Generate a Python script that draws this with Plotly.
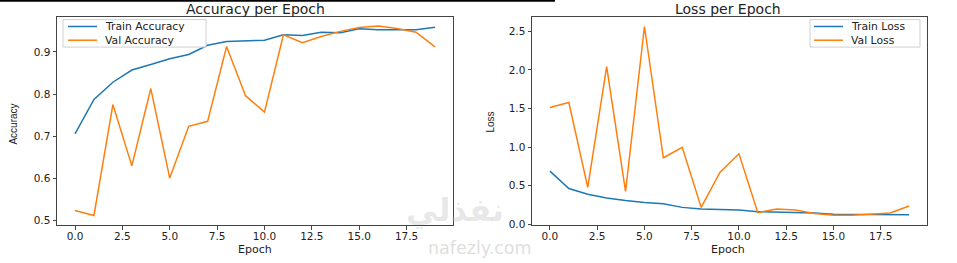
import plotly.graph_objects as go

epochs = list(range(20))
train_acc = [0.705, 0.787, 0.828, 0.857, 0.870, 0.884, 0.894, 0.916, 0.925, 0.927,
             0.928, 0.941, 0.939, 0.947, 0.946, 0.955, 0.953, 0.953, 0.953, 0.959]
val_acc = [0.523, 0.511, 0.775, 0.629, 0.813, 0.600, 0.723, 0.735, 0.913, 0.796,
           0.757, 0.941, 0.922, 0.937, 0.949, 0.958, 0.962, 0.956, 0.947, 0.912]
train_loss = [0.69, 0.465, 0.39, 0.343, 0.31, 0.283, 0.266, 0.22, 0.20, 0.19,
              0.186, 0.165, 0.16, 0.152, 0.148, 0.131, 0.131, 0.131, 0.127, 0.123]
val_loss = [1.514, 1.578, 0.478, 2.043, 0.427, 2.563, 0.863, 0.998, 0.22, 0.677,
            0.914, 0.152, 0.199, 0.186, 0.14, 0.118, 0.118, 0.131, 0.148, 0.237]
x_ticks = [0, 2.5, 5, 7.5, 10, 12.5, 15, 17.5]
acc_ticks = [0.5, 0.6, 0.7, 0.8, 0.9]
loss_ticks = [0.0, 0.5, 1.0, 1.5, 2.0, 2.5]

BLUE = "#1f77b4"
ORANGE = "#ff7f0e"
W, H = 957, 263
FONT = "DejaVu Sans"
TXT = "#222"


def px(x):
    return x / W


def py(y):
    return 1 - y / H


fig = go.Figure()
fig.add_trace(go.Scatter(x=epochs, y=train_acc, mode="lines", name="Train Accuracy",
                         line=dict(color=BLUE, width=1.5), xaxis="x", yaxis="y"))
fig.add_trace(go.Scatter(x=epochs, y=val_acc, mode="lines", name="Val Accuracy",
                         line=dict(color=ORANGE, width=1.5), xaxis="x", yaxis="y"))
fig.add_trace(go.Scatter(x=epochs, y=train_loss, mode="lines", name="Train Loss",
                         line=dict(color=BLUE, width=1.5), xaxis="x2", yaxis="y2"))
fig.add_trace(go.Scatter(x=epochs, y=val_loss, mode="lines", name="Val Loss",
                         line=dict(color=ORANGE, width=1.5), xaxis="x2", yaxis="y2"))

ydom = [py(229.5), py(17)]
common = dict(showline=True, linecolor="#444", linewidth=1, mirror=True, showgrid=False,
              zeroline=False, ticks="outside", ticklen=3.5, tickcolor="#444",
              tickfont=dict(family=FONT, size=10.5, color=TXT))

fig.update_layout(
    width=W, height=H, margin=dict(l=0, r=0, t=0, b=0),
    paper_bgcolor="white", plot_bgcolor="white",
    font=dict(family=FONT, color=TXT),
    showlegend=False,
    xaxis=dict(domain=[px(57), px(453)], range=[-0.95, 19.95], tickvals=x_ticks,
               tickformat=".1f", anchor="y", ticklabelstandoff=-2, **common),
    yaxis=dict(domain=ydom, range=[0.488, 0.984], tickvals=acc_ticks, tickformat=".1f",
               anchor="x", **common),
    xaxis2=dict(domain=[px(532), px(927)], range=[-0.95, 19.95], tickvals=x_ticks,
                tickformat=".1f", anchor="y2", ticklabelstandoff=-2, **common),
    yaxis2=dict(domain=ydom, range=[-0.01, 2.69], tickvals=loss_ticks, tickformat=".1f",
                anchor="x2", **common),
)

NARROW = "Liberation Sans, Arial, sans-serif"
annots = [
    dict(text="Accuracy per Epoch", x=px(255), y=py(9), font=dict(size=14)),
    dict(text="Loss per Epoch", x=px(728), y=py(9), font=dict(size=14)),
    dict(text="Epoch", x=px(255), y=py(254), font=dict(size=11)),
    dict(text="Epoch", x=px(728), y=py(254), font=dict(size=11)),
    dict(text="Accuracy", x=px(14), y=py(127), textangle=-90,
         font=dict(size=10, family=NARROW)),
    dict(text="Loss", x=px(491), y=py(125), textangle=-90,
         font=dict(size=10, family=NARROW)),
]

# Legends drawn as frame + sample line + label
legends = [
    dict(box=(63, 206, 20, 48), line=(68, 97), tx=104,
         items=[("Train Accuracy", BLUE, 27), ("Val Accuracy", ORANGE, 41)]),
    dict(box=(810, 920, 20, 48), line=(814, 843), tx=850,
         items=[("Train Loss", BLUE, 27), ("Val Loss", ORANGE, 41)]),
]
for lg in legends:
    x0, x1, y0, y1 = lg["box"]
    fig.add_shape(type="rect", xref="paper", yref="paper", x0=px(x0), x1=px(x1),
                  y0=py(y1), y1=py(y0), fillcolor="rgba(255,255,255,0.8)",
                  line=dict(color="#d0d0d0", width=1))
    for name, color, yy in lg["items"]:
        fig.add_shape(type="line", xref="paper", yref="paper", x0=px(lg["line"][0]),
                      x1=px(lg["line"][1]), y0=py(yy), y1=py(yy),
                      line=dict(color=color, width=1.5))
        annots.append(dict(text=name, x=px(lg["tx"]), y=py(yy), xanchor="left",
                           borderpad=0, font=dict(size=10.8)))

# watermark
annots += [
    dict(text="<b>نفذلي</b>", x=px(455), y=py(214),
         font=dict(size=32, family="DejaVu Sans", color="rgba(190,190,190,0.35)")),
    dict(text="nafezly.com", x=px(480), y=py(253),
         font=dict(size=17.5, family="DejaVu Sans", color="rgba(190,190,190,0.5)")),
]

for a in annots:
    f = dict(family=FONT, color=TXT)
    f.update(a.pop("font"))
    a.setdefault("xanchor", "center")
    fig.add_annotation(xref="paper", yref="paper", showarrow=False,
                       yanchor="middle", font=f, **a)

fig.add_shape(type="rect", xref="paper", yref="paper", x0=0, x1=px(555),
              y0=py(1.7), y1=1, fillcolor="black", line=dict(width=0))

fig.write_html("out.html")
